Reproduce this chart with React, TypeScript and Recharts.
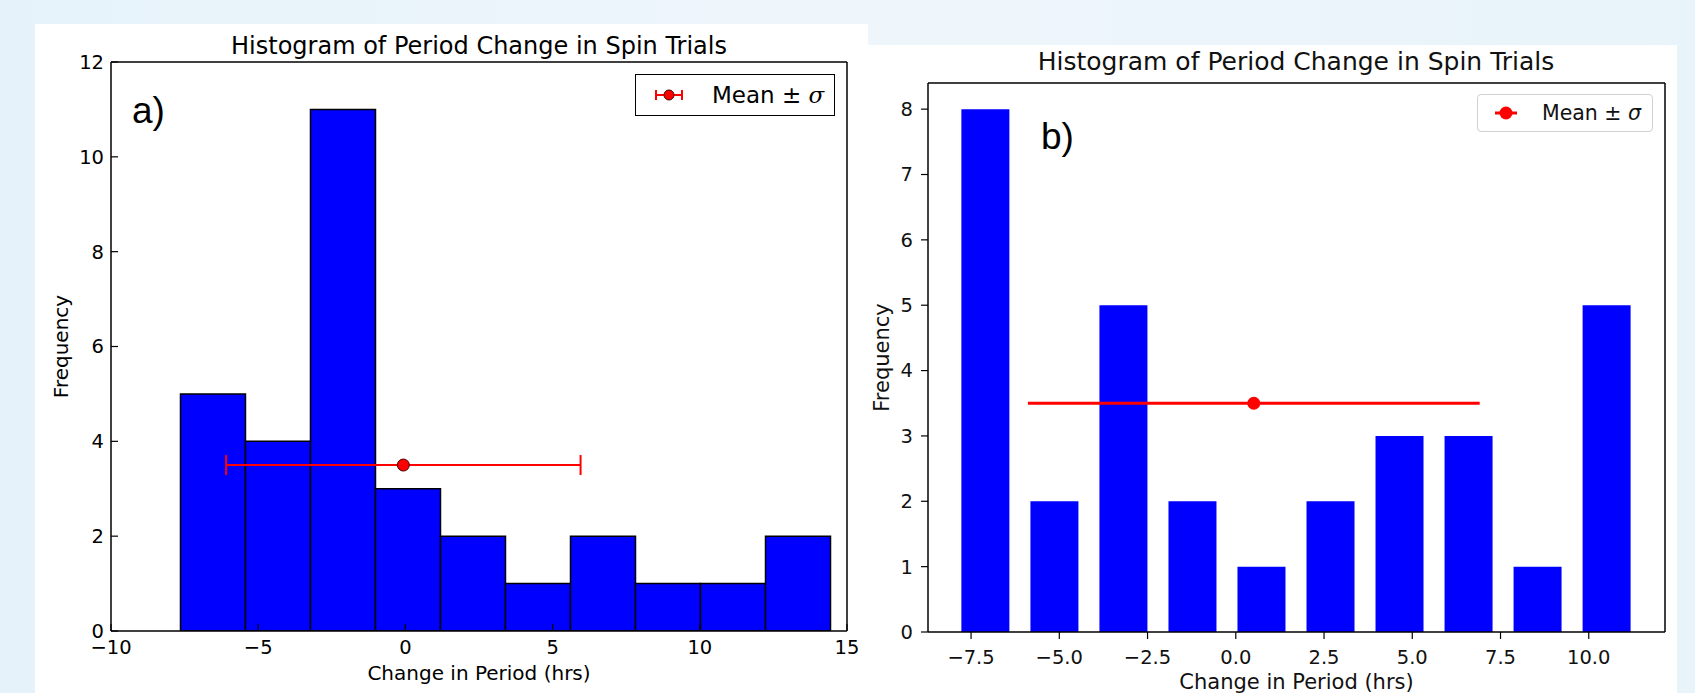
import React from "react";
import { ComposedChart, Bar, Scatter, ErrorBar, XAxis, YAxis, Legend } from "recharts";

// a) classic-style histogram (bins touching, black edges)
const binCentersA = [-6.536, -4.328, -2.12, 0.088, 2.296, 4.504, 6.712, 8.92, 11.128, 13.336];
const countsA = [5, 4, 11, 3, 2, 1, 2, 1, 1, 2];
const xTicksA = [-10, -5, 0, 5, 10, 15];
const yTicksA = [0, 2, 4, 6, 8, 10, 12];
const meanA = [{ x: -0.07, y: 3.5, err: 6.02 }];

// b) newer style histogram (rwidth ~0.7)
const binCentersB = [-7.09, -5.134, -3.179, -1.223, 0.732, 2.688, 4.643, 6.599, 8.554, 10.51];
const countsB = [8, 2, 5, 2, 1, 2, 3, 3, 1, 5];
const xTicksB = [-7.5, -5, -2.5, 0, 2.5, 5, 7.5, 10];
const yTicksB = [0, 1, 2, 3, 4, 5, 6, 7, 8];
const meanB = [{ x: 0.51, y: 3.5, err: 6.4 }];

const TITLE = "Histogram of Period Change in Spin Trials";
const XLABEL = "Change in Period (hrs)";
const YLABEL = "Frequency";

const dataA = binCentersA.map((x, i) => ({ x, count: countsA[i] }));
const dataB = binCentersB.map((x, i) => ({ x, count: countsB[i] }));

const fmtA = (v: number) => String(v).replace("-", "\u2212");
const fmtB = (v: number) => v.toFixed(1).replace("-", "\u2212");

const dotA = (p: any) => (
  <circle cx={p.cx} cy={p.cy} r={6} fill="#ff0000" stroke="#4a0000" strokeWidth={1} />
);
const dotB = (p: any) => <circle cx={p.cx} cy={p.cy} r={6.5} fill="#ff0000" />;

const legendA = () => (
  <div
    style={{
      boxSizing: "border-box",
      width: 200,
      height: 42,
      border: "1px solid #000",
      background: "#fff",
      display: "flex",
      alignItems: "center",
      fontSize: 23,
      color: "#000",
    }}
  >
    <svg width={28} height={12} style={{ marginLeft: 19 }}>
      <line x1={1} y1={6} x2={27} y2={6} stroke="#f00" strokeWidth={2} />
      <line x1={1} y1={1} x2={1} y2={11} stroke="#f00" strokeWidth={2} />
      <line x1={27} y1={1} x2={27} y2={11} stroke="#f00" strokeWidth={2} />
      <circle cx={14} cy={6} r={5} fill="#f00" stroke="#4a0000" />
    </svg>
    <span style={{ marginLeft: 29, whiteSpace: "nowrap" }}>
      Mean ± <i style={{ fontFamily: "DejaVu Serif" }}>σ</i>
    </span>
  </div>
);

const legendB = () => (
  <div
    style={{
      boxSizing: "border-box",
      width: 176,
      height: 38,
      border: "1px solid #d0d0d0",
      borderRadius: 4,
      background: "#fff",
      display: "flex",
      alignItems: "center",
      fontSize: 20.5,
      color: "#111",
    }}
  >
    <svg width={24} height={14} style={{ marginLeft: 16 }}>
      <line x1={1} y1={7} x2={23} y2={7} stroke="#f00" strokeWidth={3} />
      <circle cx={12} cy={7} r={6.5} fill="#f00" />
    </svg>
    <span style={{ marginLeft: 24, whiteSpace: "nowrap" }}>
      Mean ± <i>σ</i>
    </span>
  </div>
);

const black = { stroke: "#000", strokeWidth: 1.5 };

function PanelA() {
  return (
    <ComposedChart
      width={833}
      height={669}
      data={dataA}
      margin={{ top: 37, right: 20, bottom: 0, left: 16 }}
      barCategoryGap={0}
    >
      <XAxis
        xAxisId="bottom"
        dataKey="x"
        type="number"
        domain={[-10, 15]}
        allowDataOverflow
        ticks={xTicksA}
        interval={0}
        height={62}
        tickSize={-7}
        tickMargin={16.5}
        tick={{ fill: "#000", fontSize: 19.5 }}
        axisLine={black}
        tickLine={{ stroke: "#000", strokeWidth: 1.2 }}
        tickFormatter={fmtA}
        label={{ value: XLABEL, position: "insideBottom", offset: 13, fill: "#000", fontSize: 20 }}
      />
      <XAxis
        xAxisId="top"
        orientation="top"
        dataKey="x"
        type="number"
        domain={[-10, 15]}
        allowDataOverflow
        ticks={xTicksA}
        interval={0}
        height={1}
        tickSize={-7}
        tick={false}
        axisLine={black}
        tickLine={{ stroke: "#000", strokeWidth: 1.2 }}
      />
      <YAxis
        yAxisId="left"
        type="number"
        domain={[0, 12]}
        allowDataOverflow
        ticks={yTicksA}
        interval={0}
        width={60}
        tickSize={-7}
        tickMargin={14}
        tick={{ fill: "#000", fontSize: 19.5 }}
        axisLine={black}
        tickLine={{ stroke: "#000", strokeWidth: 1.2 }}
        label={{
          value: YLABEL,
          angle: -90,
          position: "insideLeft",
          offset: 10,
          fill: "#000",
          fontSize: 20,
          style: { textAnchor: "middle" },
        }}
      />
      <YAxis
        yAxisId="right"
        orientation="right"
        dataKey="y"
        type="number"
        domain={[0, 12]}
        allowDataOverflow
        ticks={yTicksA}
        interval={0}
        width={1}
        tickSize={-7}
        tick={false}
        axisLine={black}
        tickLine={{ stroke: "#000", strokeWidth: 1.2 }}
      />
      <Bar
        xAxisId="bottom"
        yAxisId="left"
        dataKey="count"
        fill="#0000ff"
        stroke="#000"
        strokeWidth={1.5}
        isAnimationActive={false}
      />
      <Scatter
        xAxisId="top"
        yAxisId="right"
        data={meanA}
        dataKey="y"
        shape={dotA}
        isAnimationActive={false}
      >
        <ErrorBar dataKey="err" direction="x" width={10} stroke="#ff0000" strokeWidth={2} />
      </Scatter>
      <Legend
        layout="horizontal"
        verticalAlign="middle"
        align="center"
        content={legendA}
        wrapperStyle={{ left: 600, top: 50, width: 200, height: 42 }}
      />
    </ComposedChart>
  );
}

function PanelB() {
  return (
    <ComposedChart
      width={809}
      height={648}
      data={dataB}
      margin={{ top: 37, right: 11, bottom: 1, left: 0 }}
      barCategoryGap="15%"
    >
      <XAxis
        xAxisId="bottom"
        dataKey="x"
        type="number"
        domain={[-8.72, 12.16]}
        allowDataOverflow
        ticks={xTicksB}
        interval={0}
        height={60}
        tickSize={7}
        tickMargin={11}
        tick={{ fill: "#111", fontSize: 19.5 }}
        axisLine={black}
        tickLine={{ stroke: "#000", strokeWidth: 1.2 }}
        tickFormatter={fmtB}
        label={{ value: XLABEL, position: "insideBottom", offset: 3, fill: "#111", fontSize: 21 }}
      />
      <XAxis
        xAxisId="top"
        orientation="top"
        dataKey="x"
        type="number"
        domain={[-8.72, 12.16]}
        allowDataOverflow
        height={1}
        tick={false}
        tickLine={false}
        axisLine={black}
      />
      <YAxis
        yAxisId="left"
        type="number"
        domain={[0, 8.4]}
        allowDataOverflow
        ticks={yTicksB}
        interval={0}
        width={60}
        tickSize={7}
        tickMargin={8}
        tick={{ fill: "#111", fontSize: 19.5 }}
        axisLine={black}
        tickLine={{ stroke: "#000", strokeWidth: 1.2 }}
        label={{
          value: YLABEL,
          angle: -90,
          position: "insideLeft",
          offset: 14,
          fill: "#111",
          fontSize: 21,
          style: { textAnchor: "middle" },
        }}
      />
      <YAxis
        yAxisId="right"
        orientation="right"
        dataKey="y"
        type="number"
        domain={[0, 8.4]}
        allowDataOverflow
        width={1}
        tick={false}
        tickLine={false}
        axisLine={black}
      />
      <Bar
        xAxisId="bottom"
        yAxisId="left"
        dataKey="count"
        fill="#0000ff"
        isAnimationActive={false}
      />
      <Scatter
        xAxisId="top"
        yAxisId="right"
        data={meanB}
        dataKey="y"
        shape={dotB}
        isAnimationActive={false}
      >
        <ErrorBar dataKey="err" direction="x" width={0} stroke="#ff0000" strokeWidth={3} />
      </Scatter>
      <Legend
        layout="horizontal"
        verticalAlign="middle"
        align="center"
        content={legendB}
        wrapperStyle={{ left: 609, top: 49, width: 176, height: 38 }}
      />
    </ComposedChart>
  );
}

export default function App() {
  return (
    <div
      style={{
        position: "fixed",
        left: 0,
        top: 0,
        width: 1695,
        height: 693,
        overflow: "hidden",
        background: "linear-gradient(90deg, #e6f2fa 0%, #eef6fb 50%, #e8f3fa 100%)",
        fontFamily: "DejaVu Sans",
      }}
    >
      <div style={{ position: "absolute", left: 35, top: 24, width: 833, height: 669, background: "#fff" }}>
        <PanelA />
      </div>
      <div style={{ position: "absolute", left: 868, top: 45, width: 809, height: 648, background: "#fff" }}>
        <PanelB />
      </div>
      <svg
        width={1695}
        height={693}
        style={{ position: "absolute", left: 0, top: 0, pointerEvents: "none" }}
      >
        <text x={479} y={54} textAnchor="middle" fontSize={24} fill="#000">
          {TITLE}
        </text>
        <text x={132} y={123} fontSize={37} fontFamily="Liberation Sans" fill="#000">
          a)
        </text>
        <text x={1296} y={70} textAnchor="middle" fontSize={25} fill="#111">
          {TITLE}
        </text>
        <text x={1041} y={149} fontSize={37} fontFamily="Liberation Sans" fill="#000">
          b)
        </text>
      </svg>
    </div>
  );
}
